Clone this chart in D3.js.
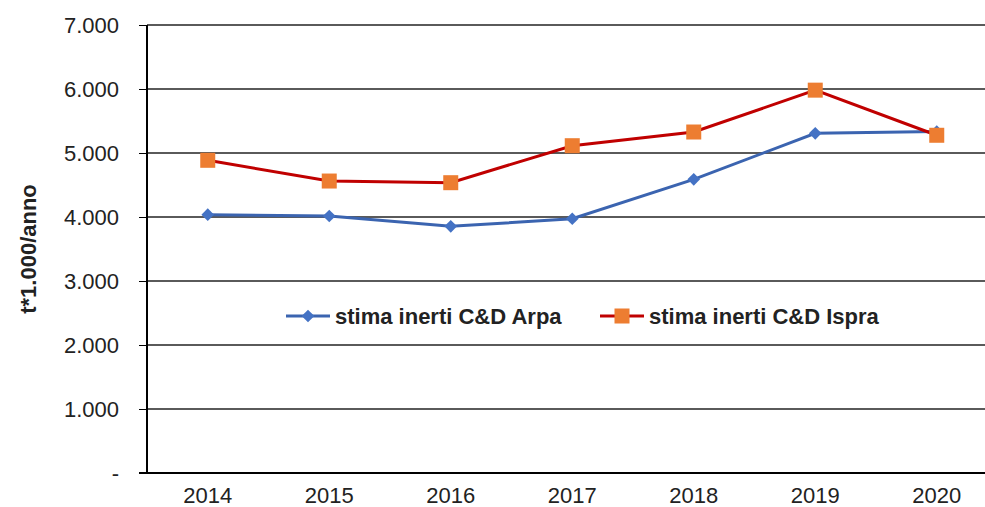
<!DOCTYPE html>
<html>
<head>
    <meta charset="utf-8">
    <title>Stima inerti C&D</title>
    <script src="https://cdnjs.cloudflare.com/ajax/libs/d3/7.8.5/d3.min.js"></script>
</head>
<style media="screen">
    body { margin: 0; background: #fff; }
    svg { font-family: "Liberation Sans", Arial, sans-serif; }
    .grid line { stroke: #5a5a5a; stroke-width: 1.5; shape-rendering: crispEdges; }
    .axis path, .axis line { stroke: #000; stroke-width: 1.5; shape-rendering: crispEdges; }
    .axis text { font-size: 22px; fill: #222; }
    .legend text { font-size: 22px; font-weight: bold; fill: #222; }
</style>
<body>
    <script>
        var years = ["2014", "2015", "2016", "2017", "2018", "2019", "2020"];
        var arpa = [4036, 4016, 3854, 3973, 4589, 5307, 5335];
        var ispra = [4886, 4562, 4536, 5114, 5328, 5982, 5277];
        var yTicks = [0, 1000, 2000, 3000, 4000, 5000, 6000, 7000];
        var seriesNames = ["stima inerti C&D Arpa", "stima inerti C&D Ispra"];

        var W = 985, H = 507;
        var plotL = 147, plotR = 997.5, plotT = 25, plotB = 473;

        var svg = d3.select("body").append("svg")
            .attr("width", W)
            .attr("height", H);

        var x = d3.scaleBand().domain(years).range([plotL, plotR]);
        var y = d3.scaleLinear().domain([0, 7000]).range([plotB, plotT]);

        var fmt = function(d) {
            return d === 0 ? "-" : d3.format(",")(d).replace(/,/g, ".");
        };

        // gridlines
        svg.append("g").attr("class", "grid")
            .selectAll("line")
            .data(yTicks.filter(function(d) { return d > 0; }))
            .enter().append("line")
            .attr("x1", plotL).attr("x2", W)
            .attr("y1", function(d) { return y(d); })
            .attr("y2", function(d) { return y(d); });

        // y axis
        var yAxis = svg.append("g").attr("class", "axis")
            .attr("transform", "translate(" + plotL + ",0)")
            .call(d3.axisLeft(y).tickValues(yTicks).tickFormat(fmt).tickSize(8).tickPadding(20));
        yAxis.select(".domain").attr("d", "M0," + plotT + "V" + plotB);

        // x axis
        var xAxis = svg.append("g").attr("class", "axis")
            .attr("transform", "translate(0," + plotB + ")")
            .call(d3.axisBottom(x).tickSize(0).tickPadding(14));
        xAxis.select(".domain").attr("d", "M" + (plotL - 8) + ",0H" + W);

        // y title
        svg.append("text")
            .attr("transform", "translate(36," + ((plotT + plotB) / 2) + ") rotate(-90)")
            .attr("text-anchor", "middle")
            .style("font-size", "22px")
            .style("font-weight", "bold")
            .style("fill", "#222")
            .text("t*1.000/anno");

        var line = d3.line()
            .x(function(d, i) { return x(years[i]) + x.bandwidth() / 2; })
            .y(function(d) { return y(d); });

        // diamond = square turned 45 degrees
        var diamond = d3.symbol().type(d3.symbolSquare).size(80);

        // Arpa
        svg.append("path").datum(arpa)
            .attr("d", line)
            .attr("fill", "none").attr("stroke", "#3b64b0").attr("stroke-width", 3);
        svg.selectAll(".arpa-pt").data(arpa).enter().append("path")
            .attr("class", "arpa-pt")
            .attr("d", diamond)
            .attr("fill", "#4472c4")
            .attr("transform", function(d, i) {
                return "translate(" + (x(years[i]) + x.bandwidth() / 2) + "," + y(d) + ") rotate(45)";
            });

        // Ispra
        svg.append("path").datum(ispra)
            .attr("d", line)
            .attr("fill", "none").attr("stroke", "#c00000").attr("stroke-width", 3);
        svg.selectAll(".ispra-pt").data(ispra).enter().append("rect")
            .attr("class", "ispra-pt")
            .attr("width", 15).attr("height", 15)
            .attr("fill", "#ed7d31")
            .attr("x", function(d, i) { return x(years[i]) + x.bandwidth() / 2 - 7.5; })
            .attr("y", function(d) { return y(d) - 7.5; });

        // legend
        var lg = svg.append("g").attr("class", "legend").attr("transform", "translate(0,316)");
        var a = lg.append("g").attr("transform", "translate(286,0)");
        a.append("line").attr("x1", 0).attr("x2", 44)
            .attr("stroke", "#3b64b0").attr("stroke-width", 3);
        a.append("path").attr("d", diamond).attr("fill", "#4472c4")
            .attr("transform", "translate(22,0) rotate(45)");
        a.append("text").attr("x", 49).attr("dy", "0.35em")
            .text(seriesNames[0]);

        var b = lg.append("g").attr("transform", "translate(600,0)");
        b.append("line").attr("x1", 0).attr("x2", 44)
            .attr("stroke", "#c00000").attr("stroke-width", 3);
        b.append("rect").attr("x", 14.5).attr("y", -7.5).attr("width", 15).attr("height", 15)
            .attr("fill", "#ed7d31");
        b.append("text").attr("x", 49).attr("dy", "0.35em")
            .text(seriesNames[1]);
    </script>
</body>
</html>
